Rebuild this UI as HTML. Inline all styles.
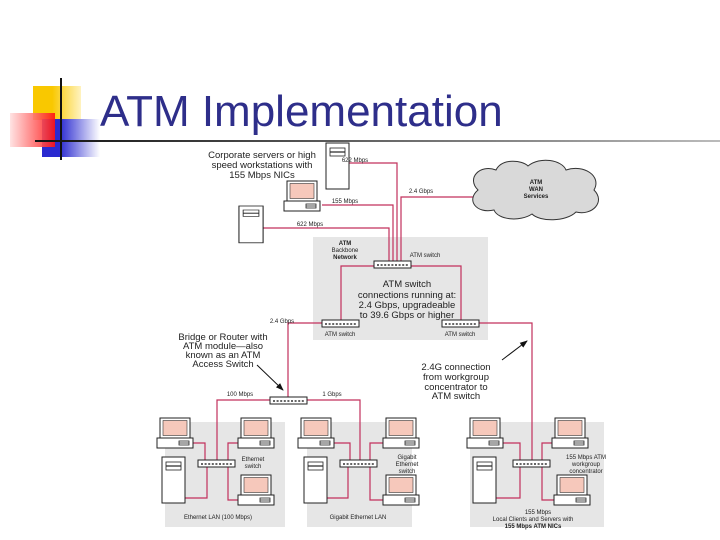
<!DOCTYPE html>
<html><head><meta charset="utf-8"><style>
html,body{margin:0;padding:0;background:#fff;}
body{width:720px;height:540px;overflow:hidden;position:relative;font-family:"Liberation Sans",sans-serif;}
</style></head><body>
<svg width="720" height="540" viewBox="0 0 720 540" xmlns="http://www.w3.org/2000/svg" style="position:absolute;left:0;top:0">
<defs>
<linearGradient id="lg" x1="0" x2="1"><stop offset="0" stop-color="#111"/><stop offset="1" stop-color="#bbb"/></linearGradient>
<linearGradient id="yg" x1="0" x2="1"><stop offset="0.4" stop-color="#f9c800"/><stop offset="1" stop-color="#fff3c0"/></linearGradient>
<linearGradient id="bg" x1="0" x2="1"><stop offset="0.3" stop-color="#2a2ad0"/><stop offset="1" stop-color="#ffffff"/></linearGradient>
<linearGradient id="rg" x1="1" x2="0"><stop offset="0" stop-color="#ff1010"/><stop offset="1" stop-color="#ffe0e0"/></linearGradient>
<g id="pc"><rect x="3" y="0" width="30" height="20" fill="#fff" stroke="#222" stroke-width="1"/><rect x="6" y="2.5" width="24" height="15" fill="#f6c8bb" stroke="#333" stroke-width="0.6"/><rect x="0" y="20" width="36" height="10" fill="#fff" stroke="#222"/><rect x="22" y="23" width="10" height="4" fill="#fff" stroke="#222" stroke-width="0.8"/><line x1="22" y1="25" x2="32" y2="25" stroke="#222" stroke-width="0.8"/></g>
<g id="srv"><rect x="0" y="0" width="23" height="46" fill="#fff" stroke="#222"/><rect x="4" y="5" width="15" height="8" fill="#fff" stroke="#222" stroke-width="0.8"/><line x1="4" y1="9" x2="19" y2="9" stroke="#222" stroke-width="1.2"/></g>
<g id="sw"><rect x="0" y="0" width="37" height="7" fill="#fff" stroke="#222"/><line x1="3" y1="4" x2="34" y2="4" stroke="#333" stroke-width="1.6" stroke-dasharray="2 1.6"/></g>
<marker id="ah" markerWidth="8" markerHeight="8" refX="7" refY="4" orient="auto"><path d="M0,1 L8,4 L0,7 z" fill="#111"/></marker>
</defs>

<rect x="33" y="86" width="48" height="34" fill="url(#yg)"/>
<rect x="42" y="119" width="58" height="38" fill="url(#bg)"/>
<rect x="10" y="113" width="45" height="34" fill="url(#rg)" opacity="0.9"/>
<line x1="61" y1="78" x2="61" y2="160" stroke="#111" stroke-width="2"/>
<rect x="35" y="140" width="685" height="2" fill="url(#lg)"/>
<text x="100" y="126" font-size="44" fill="#2e2e8a" font-family="Liberation Sans, sans-serif">ATM Implementation</text>

<rect x="313" y="237" width="175" height="103" fill="#e6e6e6"/>
<rect x="165" y="422" width="120" height="105" fill="#e6e6e6"/>
<rect x="307" y="422" width="105" height="105" fill="#e6e6e6"/>
<rect x="470" y="422" width="134" height="105" fill="#e6e6e6"/>

<g stroke="#c2305c" stroke-width="1.2" fill="none">
<polyline points="340,163 397,163 397,262"/>
<polyline points="401,262 401,197 473,197"/>
<polyline points="322,205 393,205 393,262"/>
<polyline points="263,228 389,228 389,262"/>
<polyline points="374,266 341,266 341,321"/>
<polyline points="411,266 461,266 461,321"/>
<polyline points="322,323 288,323 288,399"/>
<polyline points="479,323 532,323 532,461"/>
<polyline points="270,400 217,400 217,461"/>
<polyline points="307,400 360,400 360,461"/>
<polyline points="193,443 205,443 205,461"/>
<polyline points="207,467 207,498 185,498"/>
<polyline points="238,443 228,443 228,461"/>
<polyline points="228,467 228,500 238,500"/>
<polyline points="334,443 350,443 350,461"/>
<polyline points="348,467 348,498 327,498"/>
<polyline points="383,443 370,443 370,461"/>
<polyline points="370,467 370,500 383,500"/>
<polyline points="503,443 520,443 520,461"/>
<polyline points="520,467 520,498 495,498"/>
<polyline points="554,443 542,443 542,461"/>
<polyline points="542,467 542,500 556,500"/>
</g>

<path d="M478,190 C466,178 480,164 496,170 C502,158 522,160 528,166 C540,156 562,160 566,170 C584,164 602,176 594,190 C606,202 592,216 576,212 C566,222 540,222 532,214 C520,222 498,220 494,210 C476,214 466,200 478,190 z" fill="#d9d9d9" stroke="#333" stroke-width="1"/>

<use href="#srv" x="326" y="143"/>
<use href="#pc" x="284" y="181"/>
<use href="#srv" x="239" y="205" transform="matrix(1.05,0,0,0.8,-12,42)"/>
<use href="#sw" x="374" y="261"/>
<use href="#sw" x="322" y="320"/>
<use href="#sw" x="442" y="320"/>
<use href="#sw" x="270" y="397"/>
<use href="#pc" x="157" y="418"/>
<use href="#pc" x="238" y="418"/>
<use href="#sw" x="198" y="460"/>
<use href="#srv" x="162" y="457"/>
<use href="#pc" x="238" y="475"/>
<use href="#pc" x="298" y="418"/>
<use href="#pc" x="383" y="418"/>
<use href="#sw" x="340" y="460"/>
<use href="#srv" x="304" y="457"/>
<use href="#pc" x="383" y="475"/>
<use href="#pc" x="467" y="418"/>
<use href="#pc" x="552" y="418"/>
<use href="#sw" x="513" y="460"/>
<use href="#srv" x="473" y="457"/>
<use href="#pc" x="554" y="475"/>

<line x1="257" y1="365" x2="283" y2="390" stroke="#111" stroke-width="1" marker-end="url(#ah)"/>
<line x1="502" y1="360" x2="527" y2="341" stroke="#111" stroke-width="1" marker-end="url(#ah)"/>

<g font-family="Liberation Sans, sans-serif" fill="#222" text-anchor="middle">
<g font-size="9.5">
<text x="262" y="158">Corporate servers or high</text>
<text x="262" y="168">speed workstations with</text>
<text x="262" y="178">155 Mbps NICs</text>
<text x="407" y="287">ATM switch</text>
<text x="407" y="298">connections running at:</text>
<text x="407" y="308">2.4 Gbps, upgradeable</text>
<text x="407" y="318">to 39.6 Gbps or higher</text>
<text x="223" y="340">Bridge or Router with</text>
<text x="223" y="349">ATM module—also</text>
<text x="223" y="358">known as an ATM</text>
<text x="223" y="367">Access Switch</text>
<text x="456" y="370">2.4G connection</text>
<text x="456" y="380">from workgroup</text>
<text x="456" y="390">concentrator to</text>
<text x="456" y="399">ATM switch</text>
</g>
<g font-size="6">
<text x="355" y="162">622 Mbps</text>
<text x="421" y="193">2.4 Gbps</text>
<text x="345" y="203">155 Mbps</text>
<text x="310" y="226">622 Mbps</text>
<text x="536" y="184" font-weight="bold">ATM</text>
<text x="536" y="191" font-weight="bold">WAN</text>
<text x="536" y="198" font-weight="bold">Services</text>
<text x="345" y="245" font-weight="bold">ATM</text>
<text x="345" y="252">Backbone</text>
<text x="345" y="259" font-weight="bold">Network</text>
<text x="425" y="257">ATM switch</text>
<text x="340" y="336">ATM switch</text>
<text x="460" y="336">ATM switch</text>
<text x="282" y="323">2.4 Gbps</text>
<text x="240" y="396">100 Mbps</text>
<text x="332" y="396">1 Gbps</text>
<text x="253" y="461">Ethernet</text>
<text x="253" y="468">switch</text>
<text x="407" y="459">Gigabit</text>
<text x="407" y="466">Ethernet</text>
<text x="407" y="473">switch</text>
<text x="586" y="459">155 Mbps ATM</text>
<text x="586" y="466">workgroup</text>
<text x="586" y="473">concentrator</text>
<text x="218" y="519">Ethernet LAN (100 Mbps)</text>
<text x="358" y="519">Gigabit Ethernet LAN</text>
<text x="538" y="514">155 Mbps</text>
<text x="533" y="521">Local Clients and Servers with</text>
<text x="533" y="528" font-weight="bold">155 Mbps ATM NICs</text>
</g>
</g>
</svg>
</body></html>
